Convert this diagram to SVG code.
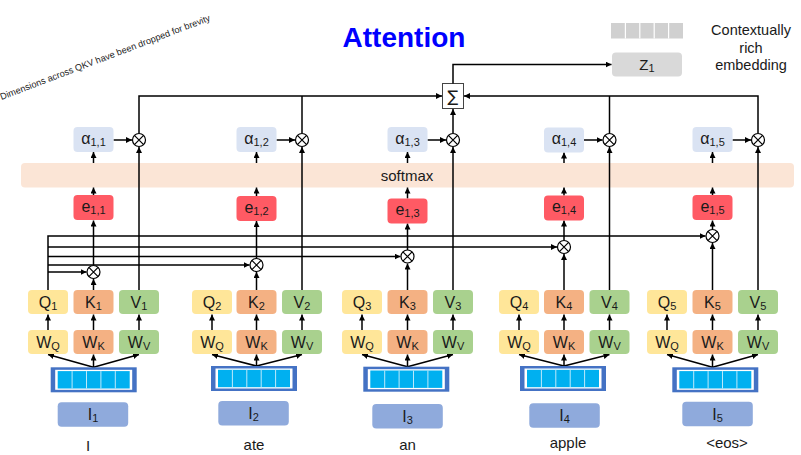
<svg xmlns="http://www.w3.org/2000/svg" xmlns:xlink="http://www.w3.org/1999/xlink" width="801" height="455" viewBox="0 0 801 455">
<style>
text{font-family:"Liberation Sans",Arial,sans-serif;fill:#1a1a1a}
.lbl{font-size:16px;text-anchor:middle}
.sub{font-size:11px}
.word{font-size:15px;text-anchor:middle}
.q{fill:#FFE699}
.k{fill:#F4B183}
.v{fill:#A9D18E}
.e{fill:#FF5A64}
.a{fill:#DAE3F3}
.i{fill:#8FAADC}
.ln{fill:none;stroke:#000;stroke-width:1.5}
.arr{fill:none;stroke:#000;stroke-width:1.5;marker-end:url(#ah)}
.ot circle{fill:#fff;stroke:#000;stroke-width:1.2}
.ot path{stroke:#000;stroke-width:1.2}
</style>
<defs>
<marker id="ah" viewBox="0 0 10 10" refX="10" refY="5" markerWidth="6" markerHeight="6" markerUnits="userSpaceOnUse" orient="auto"><path d="M0,0 L10,5 L0,10 z" fill="#000"/></marker>
<g id="otimes" class="ot"><circle r="6.5"/><path d="M-4.6,-4.6 L4.6,4.6 M-4.6,4.6 L4.6,-4.6"/></g>
<g id="emb">
<rect x="0" y="0" width="86" height="25" fill="#4472C4"/>
<rect x="4.5" y="2.5" width="77" height="20" fill="#fff"/>
<rect x="7" y="3.8" width="72" height="17.4" fill="#00B0F0"/>
<path d="M21.4,3.8 V21.2 M35.8,3.8 V21.2 M50.2,3.8 V21.2 M64.6,3.8 V21.2" stroke="#BDE9FB" stroke-width="1"/>
</g>
</defs>
<rect width="801" height="455" fill="#fff"/>

<text x="404" y="46.5" font-size="28" font-weight="bold" text-anchor="middle" style="fill:#0000FF">Attention</text>
<text transform="translate(1.5,100) rotate(-20.8)" font-size="9.2" textLength="224" lengthAdjust="spacingAndGlyphs">Dimensions across QKV have been dropped for brevity</text>

<g id="legend">
<rect x="611" y="23" width="72" height="15.5" fill="#D0D0D0"/>
<path d="M625.4,23 V38.5 M639.8,23 V38.5 M654.2,23 V38.5 M668.6,23 V38.5" stroke="#fff" stroke-width="1.2"/>
<text x="751" y="34.5" font-size="14.5" text-anchor="middle">Contextually</text>
<text x="751" y="52.5" font-size="14.5" text-anchor="middle">rich</text>
<text x="751" y="70" font-size="14.5" text-anchor="middle">embedding</text>
</g>
<g id="z1"><rect x="612" y="52.5" width="70" height="24" rx="4" fill="#D9D9D9"/><text x="647" y="70" font-size="15" text-anchor="middle">Z<tspan class="sub" dy="2">1</tspan></text></g>

<g id="softmax"><rect x="21" y="163" width="773" height="24.5" rx="4" fill="#FBE5D6"/><text x="407" y="180.5" font-size="15" text-anchor="middle">softmax</text></g>

<g id="sigma"><rect x="442.5" y="83.5" width="21" height="25" fill="#fff" stroke="#444" stroke-width="1"/><text x="453" y="102" font-size="16" text-anchor="middle" style="font-family:'DejaVu Sans','Liberation Sans',sans-serif">∑</text></g>

<g id="connectors">
<path class="arr" d="M93.5,367.3 L48,354.5"/><path class="arr" d="M93.5,367.3 L93.5,354.5"/><path class="arr" d="M93.5,367.3 L139,354.5"/>
<path class="arr" d="M48,330 V314.5"/><path class="arr" d="M93.5,330 V314.5"/><path class="arr" d="M139,330 V314.5"/>
<path class="arr" d="M93.5,290 V279"/><path class="arr" d="M93.5,265.5 V220.5"/><path class="arr" d="M93.5,195 V187.5"/><path class="arr" d="M93.5,163 V152"/>
<path class="arr" d="M113.5,140 H132"/><path class="arr" d="M139,290 V147"/>
<path class="arr" d="M256.5,366 L212,354.5"/><path class="arr" d="M256.5,366 L256.5,354.5"/><path class="arr" d="M256.5,366 L302,354.5"/>
<path class="arr" d="M212,330 V314.5"/><path class="arr" d="M256.5,330 V314.5"/><path class="arr" d="M302,330 V314.5"/>
<path class="arr" d="M256.5,290 V272"/><path class="arr" d="M256.5,258.5 V221"/><path class="arr" d="M256.5,196 V187.5"/><path class="arr" d="M256.5,163 V152"/>
<path class="arr" d="M276.5,140 H295"/><path class="arr" d="M302,290 V147"/>
<path class="arr" d="M407.5,366.7 L362,354.5"/><path class="arr" d="M407.5,366.7 L407.5,354.5"/><path class="arr" d="M407.5,366.7 L453,354.5"/>
<path class="arr" d="M362,330 V314.5"/><path class="arr" d="M407.5,330 V314.5"/><path class="arr" d="M453,330 V314.5"/>
<path class="arr" d="M407.5,290 V263.5"/><path class="arr" d="M407.5,250 V223.5"/><path class="arr" d="M407.5,198.5 V187.5"/><path class="arr" d="M407.5,163 V152"/>
<path class="arr" d="M427.5,140 H446"/><path class="arr" d="M453,290 V147"/>
<path class="arr" d="M564,366 L519,354.5"/><path class="arr" d="M564,366 L564,354.5"/><path class="arr" d="M564,366 L609.5,354.5"/>
<path class="arr" d="M519,330 V314.5"/><path class="arr" d="M564,330 V314.5"/><path class="arr" d="M609.5,330 V314.5"/>
<path class="arr" d="M564,290 V254"/><path class="arr" d="M564,240.5 V220.5"/><path class="arr" d="M564,195.5 V187.5"/><path class="arr" d="M564,163 V152.5"/>
<path class="arr" d="M584,140 H602.5"/><path class="arr" d="M609.5,290 V147"/>
<path class="arr" d="M712.5,367.3 L667,354.5"/><path class="arr" d="M712.5,367.3 L712.5,354.5"/><path class="arr" d="M712.5,367.3 L758,354.5"/>
<path class="arr" d="M667,330 V314.5"/><path class="arr" d="M712.5,330 V314.5"/><path class="arr" d="M758,330 V314.5"/>
<path class="arr" d="M712.5,290 V243"/><path class="arr" d="M712.5,229.5 V220.5"/><path class="arr" d="M712.5,195 V187.5"/><path class="arr" d="M712.5,163 V152"/>
<path class="arr" d="M732.5,140 H751"/><path class="arr" d="M758,290 V147"/>
<path class="arr" d="M48,290 V236 H705.5"/>
<path class="arr" d="M48,247 H557"/>
<path class="arr" d="M48,256.5 H400.5"/>
<path class="arr" d="M48,265 H249.5"/>
<path class="arr" d="M48,272 H86.5"/>
<path class="arr" d="M139,133.5 V96 H442"/>
<path class="ln" d="M302,133 V96"/>
<path class="arr" d="M453,133 V109"/>
<path class="ln" d="M609.5,133 V96"/>
<path class="arr" d="M758,133 V96 H464"/>
<path class="arr" d="M453,83.5 V64.5 H611.5"/>
</g>

<g id="col1">
<g id="w_q1"><rect class="q" x="28" y="330" width="40" height="24" rx="4"/><text class="lbl" x="48" y="347.5">W<tspan class="sub" dy="2">Q</tspan></text></g>
<g id="w_k1"><rect class="k" x="73.5" y="330" width="40" height="24" rx="4"/><text class="lbl" x="93.5" y="347.5">W<tspan class="sub" dy="2">K</tspan></text></g>
<g id="w_v1"><rect class="v" x="119" y="330" width="40" height="24" rx="4"/><text class="lbl" x="139" y="347.5">W<tspan class="sub" dy="2">V</tspan></text></g>
<g id="q1"><rect class="q" x="28" y="290" width="40" height="24" rx="4"/><text class="lbl" x="48" y="308">Q<tspan class="sub" dy="2">1</tspan></text></g>
<g id="k1"><rect class="k" x="73.5" y="290" width="40" height="24" rx="4"/><text class="lbl" x="93.5" y="308">K<tspan class="sub" dy="2">1</tspan></text></g>
<g id="v1"><rect class="v" x="119" y="290" width="40" height="24" rx="4"/><text class="lbl" x="139" y="308">V<tspan class="sub" dy="2">1</tspan></text></g>
<g id="emb1"><use xlink:href="#emb" x="50.7" y="367.3"/></g>
<g id="i1"><rect class="i" x="57.7" y="402.3" width="70.5" height="24.5" rx="4"/><text class="lbl" x="93" y="420">I<tspan class="sub" dy="2">1</tspan></text></g>
<text class="word" x="88" y="451">I</text>
<g id="ok1"><use xlink:href="#otimes" x="93.5" y="272"/></g>
<g id="e11"><rect class="e" x="73.5" y="195" width="40" height="25" rx="4"/><text class="lbl" x="93.5" y="211.5">e<tspan class="sub" dy="2">1,1</tspan></text></g>
<g id="a11"><rect class="a" x="73.5" y="127" width="40" height="25" rx="4"/><text class="lbl" x="93.5" y="143.5">α<tspan class="sub" dy="2">1,1</tspan></text></g>
<g id="ov1"><use xlink:href="#otimes" x="139" y="140"/></g>
</g>

<g id="col2">
<g id="w_q2"><rect class="q" x="192" y="330" width="40" height="24" rx="4"/><text class="lbl" x="212" y="347.5">W<tspan class="sub" dy="2">Q</tspan></text></g>
<g id="w_k2"><rect class="k" x="236.5" y="330" width="40" height="24" rx="4"/><text class="lbl" x="256.5" y="347.5">W<tspan class="sub" dy="2">K</tspan></text></g>
<g id="w_v2"><rect class="v" x="282" y="330" width="40" height="24" rx="4"/><text class="lbl" x="302" y="347.5">W<tspan class="sub" dy="2">V</tspan></text></g>
<g id="q2"><rect class="q" x="192" y="290" width="40" height="24" rx="4"/><text class="lbl" x="212" y="308">Q<tspan class="sub" dy="2">2</tspan></text></g>
<g id="k2"><rect class="k" x="236.5" y="290" width="40" height="24" rx="4"/><text class="lbl" x="256.5" y="308">K<tspan class="sub" dy="2">2</tspan></text></g>
<g id="v2"><rect class="v" x="282" y="290" width="40" height="24" rx="4"/><text class="lbl" x="302" y="308">V<tspan class="sub" dy="2">2</tspan></text></g>
<g id="emb2"><use xlink:href="#emb" x="211" y="366"/></g>
<g id="i2"><rect class="i" x="218.3" y="401" width="70.5" height="24.5" rx="4"/><text class="lbl" x="253.5" y="418.5">I<tspan class="sub" dy="2">2</tspan></text></g>
<text class="word" x="254" y="450">ate</text>
<g id="ok2"><use xlink:href="#otimes" x="256.5" y="265"/></g>
<g id="e12"><rect class="e" x="236.5" y="196" width="40" height="25" rx="4"/><text class="lbl" x="256.5" y="212.5">e<tspan class="sub" dy="2">1,2</tspan></text></g>
<g id="a12"><rect class="a" x="236.5" y="127" width="40" height="25" rx="4"/><text class="lbl" x="256.5" y="143.5">α<tspan class="sub" dy="2">1,2</tspan></text></g>
<g id="ov2"><use xlink:href="#otimes" x="302" y="140"/></g>
</g>

<g id="col3">
<g id="w_q3"><rect class="q" x="342" y="330" width="40" height="24" rx="4"/><text class="lbl" x="362" y="347.5">W<tspan class="sub" dy="2">Q</tspan></text></g>
<g id="w_k3"><rect class="k" x="387.5" y="330" width="40" height="24" rx="4"/><text class="lbl" x="407.5" y="347.5">W<tspan class="sub" dy="2">K</tspan></text></g>
<g id="w_v3"><rect class="v" x="433" y="330" width="40" height="24" rx="4"/><text class="lbl" x="453" y="347.5">W<tspan class="sub" dy="2">V</tspan></text></g>
<g id="q3"><rect class="q" x="342" y="290" width="40" height="24" rx="4"/><text class="lbl" x="362" y="308">Q<tspan class="sub" dy="2">3</tspan></text></g>
<g id="k3"><rect class="k" x="387.5" y="290" width="40" height="24" rx="4"/><text class="lbl" x="407.5" y="308">K<tspan class="sub" dy="2">3</tspan></text></g>
<g id="v3"><rect class="v" x="433" y="290" width="40" height="24" rx="4"/><text class="lbl" x="453" y="308">V<tspan class="sub" dy="2">3</tspan></text></g>
<g id="emb3"><use xlink:href="#emb" x="363.3" y="366.7"/></g>
<g id="i3"><rect class="i" x="372.3" y="404" width="70.5" height="24.5" rx="4"/><text class="lbl" x="407.5" y="421.5">I<tspan class="sub" dy="2">3</tspan></text></g>
<text class="word" x="407.5" y="450">an</text>
<g id="ok3"><use xlink:href="#otimes" x="407.5" y="256.5"/></g>
<g id="e13"><rect class="e" x="387.5" y="198.5" width="40" height="25" rx="4"/><text class="lbl" x="407.5" y="215">e<tspan class="sub" dy="2">1,3</tspan></text></g>
<g id="a13"><rect class="a" x="387.5" y="127" width="40" height="25" rx="4"/><text class="lbl" x="407.5" y="143.5">α<tspan class="sub" dy="2">1,3</tspan></text></g>
<g id="ov3"><use xlink:href="#otimes" x="453" y="140"/></g>
</g>

<g id="col4">
<g id="w_q4"><rect class="q" x="499" y="330" width="40" height="24" rx="4"/><text class="lbl" x="519" y="347.5">W<tspan class="sub" dy="2">Q</tspan></text></g>
<g id="w_k4"><rect class="k" x="544" y="330" width="40" height="24" rx="4"/><text class="lbl" x="564" y="347.5">W<tspan class="sub" dy="2">K</tspan></text></g>
<g id="w_v4"><rect class="v" x="589.5" y="330" width="40" height="24" rx="4"/><text class="lbl" x="609.5" y="347.5">W<tspan class="sub" dy="2">V</tspan></text></g>
<g id="q4"><rect class="q" x="499" y="290" width="40" height="24" rx="4"/><text class="lbl" x="519" y="308">Q<tspan class="sub" dy="2">4</tspan></text></g>
<g id="k4"><rect class="k" x="544" y="290" width="40" height="24" rx="4"/><text class="lbl" x="564" y="308">K<tspan class="sub" dy="2">4</tspan></text></g>
<g id="v4"><rect class="v" x="589.5" y="290" width="40" height="24" rx="4"/><text class="lbl" x="609.5" y="308">V<tspan class="sub" dy="2">4</tspan></text></g>
<g id="emb4"><use xlink:href="#emb" x="520" y="366"/></g>
<g id="i4"><rect class="i" x="529.3" y="403.3" width="70.5" height="24.5" rx="4"/><text class="lbl" x="564.5" y="421">I<tspan class="sub" dy="2">4</tspan></text></g>
<text class="word" x="568" y="448">apple</text>
<g id="ok4"><use xlink:href="#otimes" x="564" y="247"/></g>
<g id="e14"><rect class="e" x="544" y="195.5" width="40" height="25" rx="4"/><text class="lbl" x="564" y="212">e<tspan class="sub" dy="2">1,4</tspan></text></g>
<g id="a14"><rect class="a" x="544" y="127.5" width="40" height="25" rx="4"/><text class="lbl" x="564" y="144">α<tspan class="sub" dy="2">1,4</tspan></text></g>
<g id="ov4"><use xlink:href="#otimes" x="609.5" y="140"/></g>
</g>

<g id="col5">
<g id="w_q5"><rect class="q" x="647" y="330" width="40" height="24" rx="4"/><text class="lbl" x="667" y="347.5">W<tspan class="sub" dy="2">Q</tspan></text></g>
<g id="w_k5"><rect class="k" x="692.5" y="330" width="40" height="24" rx="4"/><text class="lbl" x="712.5" y="347.5">W<tspan class="sub" dy="2">K</tspan></text></g>
<g id="w_v5"><rect class="v" x="738" y="330" width="40" height="24" rx="4"/><text class="lbl" x="758" y="347.5">W<tspan class="sub" dy="2">V</tspan></text></g>
<g id="q5"><rect class="q" x="647" y="290" width="40" height="24" rx="4"/><text class="lbl" x="667" y="308">Q<tspan class="sub" dy="2">5</tspan></text></g>
<g id="k5"><rect class="k" x="692.5" y="290" width="40" height="24" rx="4"/><text class="lbl" x="712.5" y="308">K<tspan class="sub" dy="2">5</tspan></text></g>
<g id="v5"><rect class="v" x="738" y="290" width="40" height="24" rx="4"/><text class="lbl" x="758" y="308">V<tspan class="sub" dy="2">5</tspan></text></g>
<g id="emb5"><use xlink:href="#emb" x="672.3" y="367.3"/></g>
<g id="i5"><rect class="i" x="682.3" y="401.7" width="70.5" height="24.5" rx="4"/><text class="lbl" x="717.5" y="419.5">I<tspan class="sub" dy="2">5</tspan></text></g>
<text class="word" x="727" y="448">&lt;eos&gt;</text>
<g id="ok5"><use xlink:href="#otimes" x="712.5" y="236"/></g>
<g id="e15"><rect class="e" x="692.5" y="195" width="40" height="25" rx="4"/><text class="lbl" x="712.5" y="211.5">e<tspan class="sub" dy="2">1,5</tspan></text></g>
<g id="a15"><rect class="a" x="692.5" y="127" width="40" height="25" rx="4"/><text class="lbl" x="712.5" y="143.5">α<tspan class="sub" dy="2">1,5</tspan></text></g>
<g id="ov5"><use xlink:href="#otimes" x="758" y="140"/></g>
</g>
</svg>
